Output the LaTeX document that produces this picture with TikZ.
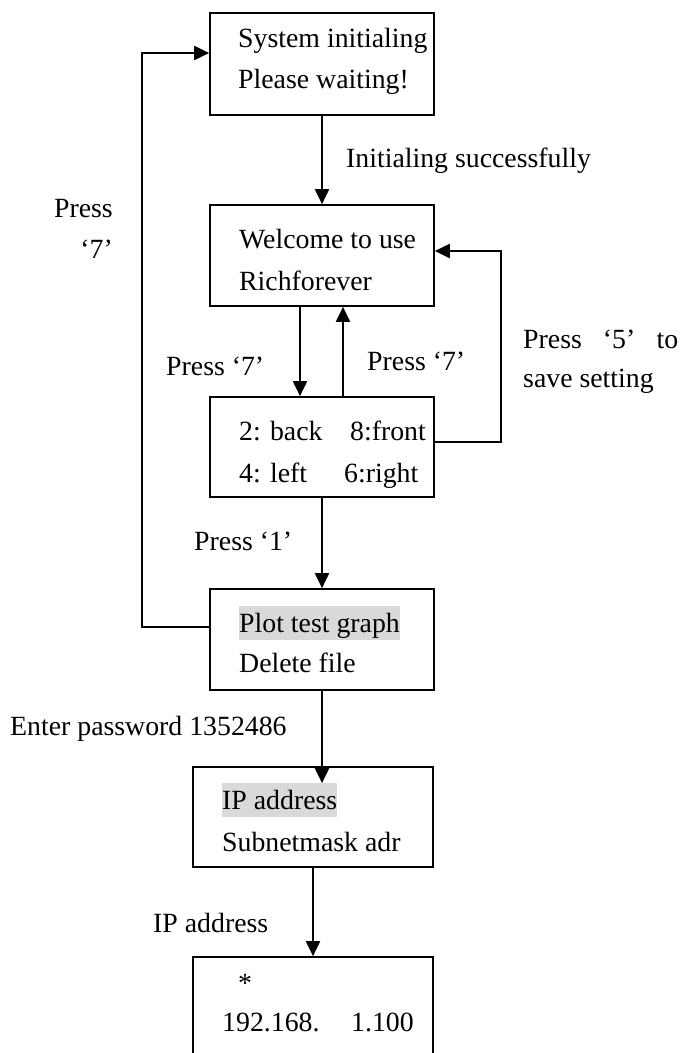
\documentclass[tikz,border=0pt]{standalone}
\usepackage{fontspec}
\setmainfont{Liberation Serif}
\usetikzlibrary{arrows.meta}
\definecolor{hl}{HTML}{D9D9D9}
\newcommand\hlbox[1]{{\setlength\fboxsep{0pt}\colorbox{hl}{\rule[-7.5pt]{0pt}{34pt}#1}}}
\begin{document}
\begin{tikzpicture}[x=1pt,y=-1pt,
  box/.style={draw,line width=1.7pt,rectangle,inner sep=0pt},
  txt/.style={inner sep=0pt,anchor=base west,font=\fontsize{27.8}{41}\selectfont},
  rtxt/.style={txt,anchor=base east},
  arr/.style={line width=2pt,-{Triangle[length=15pt,width=14pt]}}]
\useasboundingbox (0,0) rectangle (685,1053);
\clip (0,0) rectangle (685,1053);
% boxes
\node[box,minimum width=224pt,minimum height=102pt] (b1) at (322,64) {};
\node[box,minimum width=224pt,minimum height=101pt] (b2) at (322,255.5) {};
\node[box,minimum width=224pt,minimum height=100pt] (b3) at (322,447) {};
\node[box,minimum width=224pt,minimum height=101pt] (b4) at (322,639.5) {};
\node[box,minimum width=240pt,minimum height=100pt] (b5) at (313,817) {};
\node[box,minimum width=240pt,minimum height=113pt] (b6) at (313,1013.5) {};
% box texts
\node[txt] (t1a) at (238,47) {System initialing};
\node[txt] (t1b) at (238,88) {Please waiting!};
\node[txt] (t2a) at (239,248) {Welcome to use};
\node[txt] (t2b) at (239,290) {Richforever};
\node[txt] (t3a) at (239,440) {\makebox[111pt][l]{2: back}8:front};
\node[txt] (t3b) at (239,482) {\makebox[105pt][l]{4: left}6:right};
\node[txt] (t4a) at (239,632) {\hlbox{Plot test graph}};
\node[txt] (t4b) at (239,672) {Delete file};
\node[txt] (t5a) at (222,809) {\hlbox{IP address}};
\node[txt] (t5b) at (222,851) {Subnetmask adr};
\node[txt] (t6a) at (238,992) {*};
\node[txt] (t6b) at (222,1031) {\makebox[129pt][l]{192.168.}1.100};
% labels
\node[txt] (l1) at (346,167) {Initialing successfully};
\node[rtxt] (l2a) at (113,217) {Press};
\node[rtxt] (l2b) at (113,258) {‘7’};
\node[txt] (l3) at (166,375) {Press ‘7’};
\node[txt] (l4) at (367,370) {Press ‘7’};
\node[txt] (l5a) at (523,348) {Press\hspace{0.76em}‘5’\hspace{0.76em}to};
\node[txt] (l5b) at (523,387) {save setting};
\node[txt] (l6) at (194,550) {Press ‘1’};
\node[txt] (l7) at (10,735) {Enter password 1352486};
\node[txt] (l8) at (153,932) {IP address};
% connectors
\coordinate (c5in) at ([xshift=9pt,yshift=-17pt]b5.north);
\draw[arr] (b1.south) -- (b2.north);
\draw[arr] ([xshift=-22pt]b2.south) -- ([xshift=-22pt]b3.north);
\draw[arr] ([xshift=21pt]b3.north) -- ([xshift=21pt]b2.south);
\draw[arr] ([yshift=5pt]b3.east) -- ++(66,0) |- ([yshift=4.5pt]b2.east);
\draw[arr] (b3.south) -- (b4.north);
\draw[arr] ([yshift=12.5pt]b4.west) -- ++(-67,0) |- ([yshift=11pt]b1.west);
\draw[arr] (b4.south) -- (c5in);
\draw[arr] (b5.south) -- (b6.north);
\end{tikzpicture}
\end{document}
